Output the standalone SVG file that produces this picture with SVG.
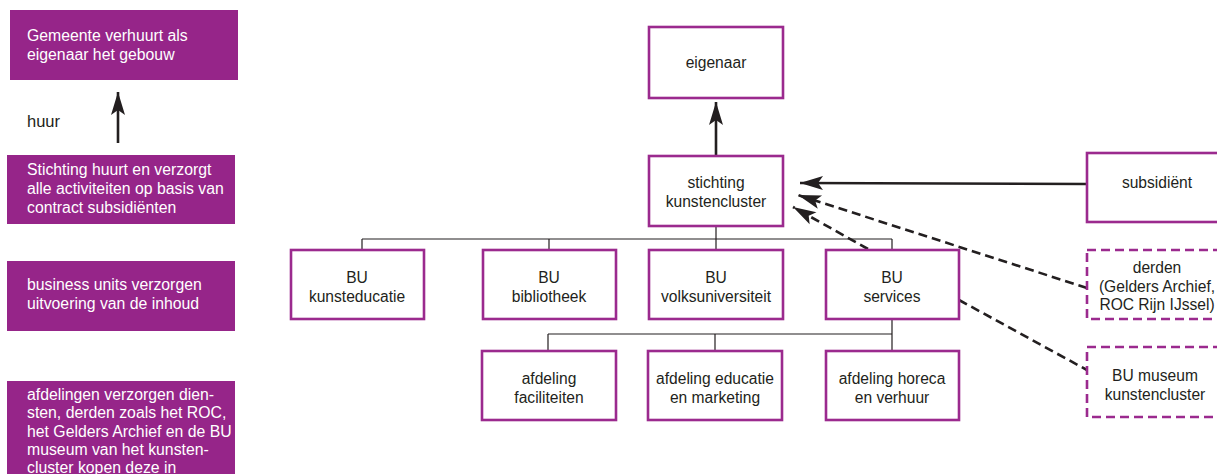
<svg xmlns="http://www.w3.org/2000/svg" width="1217" height="474" viewBox="0 0 1217 474">
<style>
.band{fill:#962589;}
.bt{font-family:"Liberation Sans",Arial,sans-serif;font-size:15.8px;fill:#ffffff;}
.lbl{font-family:"Liberation Sans",Arial,sans-serif;font-size:16.5px;fill:#231f20;}
.node{fill:#ffffff;stroke:#9b2a8e;stroke-width:2.6;}
.dnode{fill:#ffffff;stroke:#9b2a8e;stroke-width:2.6;stroke-dasharray:9 5;}
.nt{font-family:"Liberation Sans",Arial,sans-serif;font-size:15.6px;fill:#231f20;text-anchor:middle;}
.tree{fill:none;stroke:#231f20;stroke-width:1.2;}
.arr{fill:none;stroke:#231f20;stroke-width:2.6;marker-end:url(#ah);}
.dash{fill:none;stroke:#231f20;stroke-width:2.6;stroke-dasharray:9 5;}
.dasharr{fill:none;stroke:#231f20;stroke-width:2.6;stroke-dasharray:9 5;marker-end:url(#ah);}
</style>
<defs>
<marker id="ah" markerUnits="userSpaceOnUse" markerWidth="30" markerHeight="20" viewBox="-24 -10 26 20" refX="0" refY="0" orient="auto">
<path d="M0,0 L-23,-7 L-18,0 L-23,7 Z" fill="#231f20"/>
</marker>
</defs>
<rect width="1217" height="474" fill="#ffffff"/>

<g id="legend">
<g id="legend-gemeente">
<rect class="band" x="10" y="10" width="228" height="70"/>
<text class="bt" x="27" y="41">Gemeente verhuurt als</text>
<text class="bt" x="27" y="60">eigenaar het gebouw</text>
</g>
<g id="legend-huur">
<text class="lbl" x="27" y="127">huur</text>
<line class="arr" x1="118" y1="143" x2="118" y2="92"/>
</g>
<g id="legend-stichting">
<rect class="band" x="7" y="155" width="228" height="69"/>
<text class="bt" x="27" y="175">Stichting huurt en verzorgt</text>
<text class="bt" x="27" y="194">alle activiteiten op basis van</text>
<text class="bt" x="27" y="213">contract subsidiënten</text>
</g>
<g id="legend-bu">
<rect class="band" x="7" y="261" width="228" height="70"/>
<text class="bt" x="27" y="290">business units verzorgen</text>
<text class="bt" x="27" y="309">uitvoering van de inhoud</text>
</g>
<g id="legend-afdelingen">
<rect class="band" x="7" y="381" width="228" height="100"/>
<text class="bt" x="27" y="400">afdelingen verzorgen dien-</text>
<text class="bt" x="27" y="418">sten, derden zoals het ROC,</text>
<text class="bt" x="27" y="437">het Gelders Archief en de BU</text>
<text class="bt" x="27" y="455">museum van het kunsten-</text>
<text class="bt" x="27" y="473">cluster kopen deze in</text>
</g>
</g>

<g id="connectors">
<path class="tree" d="M716,226 V239 M362,239 H892 M362,239 V250 M549,239 V250 M716,239 V250 M892,239 V250"/>
<path class="tree" d="M892,319 V334 M548,334 H892 M548,334 V351 M715,334 V351 M892,334 V351"/>
<line class="arr" x1="716" y1="155" x2="716" y2="102"/>
<line class="arr" x1="1087" y1="184" x2="800" y2="183"/>
<line class="dasharr" x1="1087" y1="288" x2="798" y2="195"/>
<line class="dasharr" x1="868" y1="249" x2="793" y2="207"/>
<line class="dash" x1="959" y1="300" x2="1087" y2="370"/>
</g>

<g id="eigenaar">
<rect class="node" x="649" y="27" width="134" height="71"/>
<text class="nt" x="716" y="68">eigenaar</text>
</g>
<g id="stichting">
<rect class="node" x="649" y="156" width="134" height="70"/>
<text class="nt" x="716" y="188">stichting</text>
<text class="nt" x="716" y="207">kunstencluster</text>
</g>
<g id="bu-kunsteducatie">
<rect class="node" x="291" y="250" width="133" height="69"/>
<text class="nt" x="357" y="283">BU</text>
<text class="nt" x="357" y="302">kunsteducatie</text>
</g>
<g id="bu-bibliotheek">
<rect class="node" x="483" y="250" width="133" height="69"/>
<text class="nt" x="549" y="283">BU</text>
<text class="nt" x="549" y="302">bibliotheek</text>
</g>
<g id="bu-volksuniversiteit">
<rect class="node" x="649" y="250" width="134" height="69"/>
<text class="nt" x="716" y="283">BU</text>
<text class="nt" x="716" y="302">volksuniversiteit</text>
</g>
<g id="bu-services">
<rect class="node" x="826" y="250" width="133" height="69"/>
<text class="nt" x="892" y="283">BU</text>
<text class="nt" x="892" y="302">services</text>
</g>
<g id="afdeling-faciliteiten">
<rect class="node" x="482" y="351" width="134" height="69"/>
<text class="nt" x="549" y="384">afdeling</text>
<text class="nt" x="549" y="403">faciliteiten</text>
</g>
<g id="afdeling-educatie">
<rect class="node" x="648" y="351" width="134" height="69"/>
<text class="nt" x="715" y="384">afdeling educatie</text>
<text class="nt" x="715" y="403">en marketing</text>
</g>
<g id="afdeling-horeca">
<rect class="node" x="826" y="351" width="133" height="69"/>
<text class="nt" x="892" y="384">afdeling horeca</text>
<text class="nt" x="892" y="403">en verhuur</text>
</g>
<g id="subsidient">
<rect class="node" x="1087" y="153" width="140" height="69"/>
<text class="nt" x="1157" y="188">subsidiënt</text>
</g>
<g id="derden">
<rect class="dnode" x="1087" y="250" width="140" height="69"/>
<text class="nt" x="1157" y="273">derden</text>
<text class="nt" x="1157" y="292">(Gelders Archief,</text>
<text class="nt" x="1157" y="310">ROC Rijn IJssel)</text>
</g>
<g id="bu-museum">
<rect class="dnode" x="1087" y="347" width="140" height="70"/>
<text class="nt" x="1155" y="381">BU museum</text>
<text class="nt" x="1155" y="400">kunstencluster</text>
</g>
</svg>
